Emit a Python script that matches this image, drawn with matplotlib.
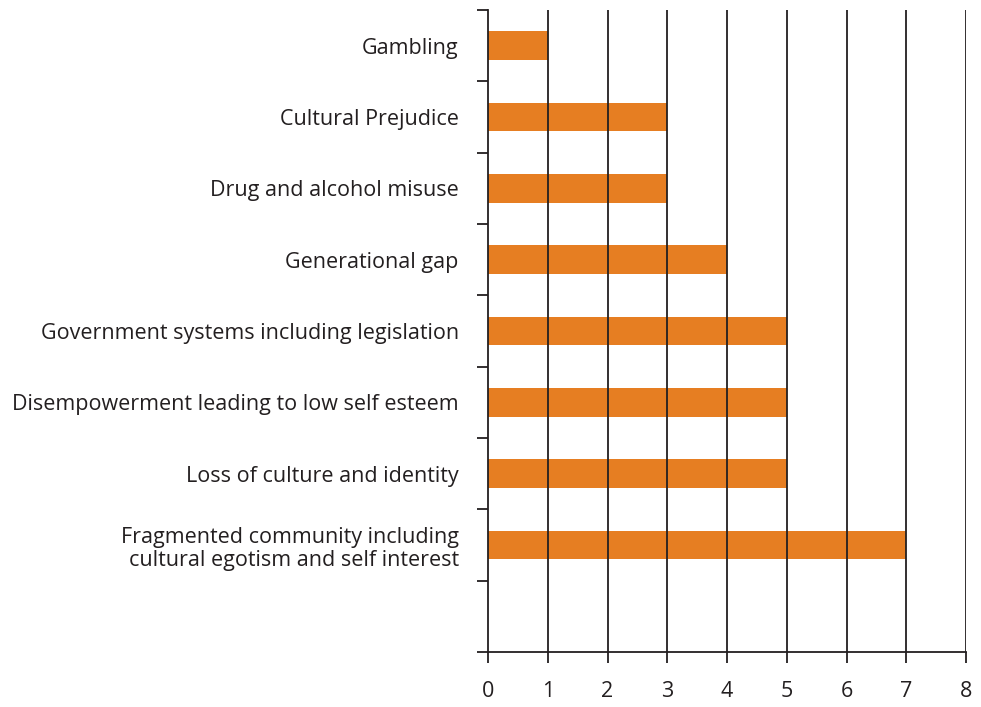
import numpy as np
from matplotlib import pyplot as plt

categories = [
    "Gambling",
    "Cultural Prejudice",
    "Drug and alcohol misuse",
    "Generational gap",
    "Government systems including legislation",
    "Disempowerment leading to low self esteem",
    "Loss of culture and identity",
    "Fragmented community including\ncultural egotism and self interest",
    "",
]
values = [1, 3, 3, 4, 5, 5, 5, 7, 0]
x_ticks = [0, 1, 2, 3, 4, 5, 6, 7, 8]

plt.rcParams['font.family'] = ['Open Sans', 'DejaVu Sans']

fig = plt.figure(figsize=(9.81, 7.07), dpi=100)
ax = fig.add_axes([488/981, 1-652/707, (966-488)/981, (652-10)/707])

pos = np.arange(len(categories))
ax.barh(pos, values, height=0.4, color='#e67e22', zorder=2)

ax.set_xlim(0, 8)
ax.set_ylim(len(categories) - 0.5, -0.5)
ax.set_xticks(x_ticks)
ax.set_xticklabels([str(t) for t in x_ticks], fontsize=15.5, color='#231f20')
for t in x_ticks[1:]:
    ax.axvline(t, color='#231f20', linewidth=1.3, zorder=3)

ax.set_yticks(pos)
ax.set_yticklabels(categories, fontsize=15.5, color='#231f20', ha='right',
                   linespacing=1.15)
ax.tick_params(axis='y', which='major', length=0, pad=21)
ax.set_yticks(np.arange(-0.5, len(categories), 1), minor=True)
ax.tick_params(axis='y', which='minor', length=8, width=1.3, color='#231f20')
ax.tick_params(axis='x', length=8, width=1.3, color='#231f20', pad=13)

for s in ['top', 'right']:
    ax.spines[s].set_visible(False)
for s in ['left', 'bottom']:
    ax.spines[s].set_color('#231f20')
    ax.spines[s].set_linewidth(1.3)

plt.savefig('out.png', dpi=100)
